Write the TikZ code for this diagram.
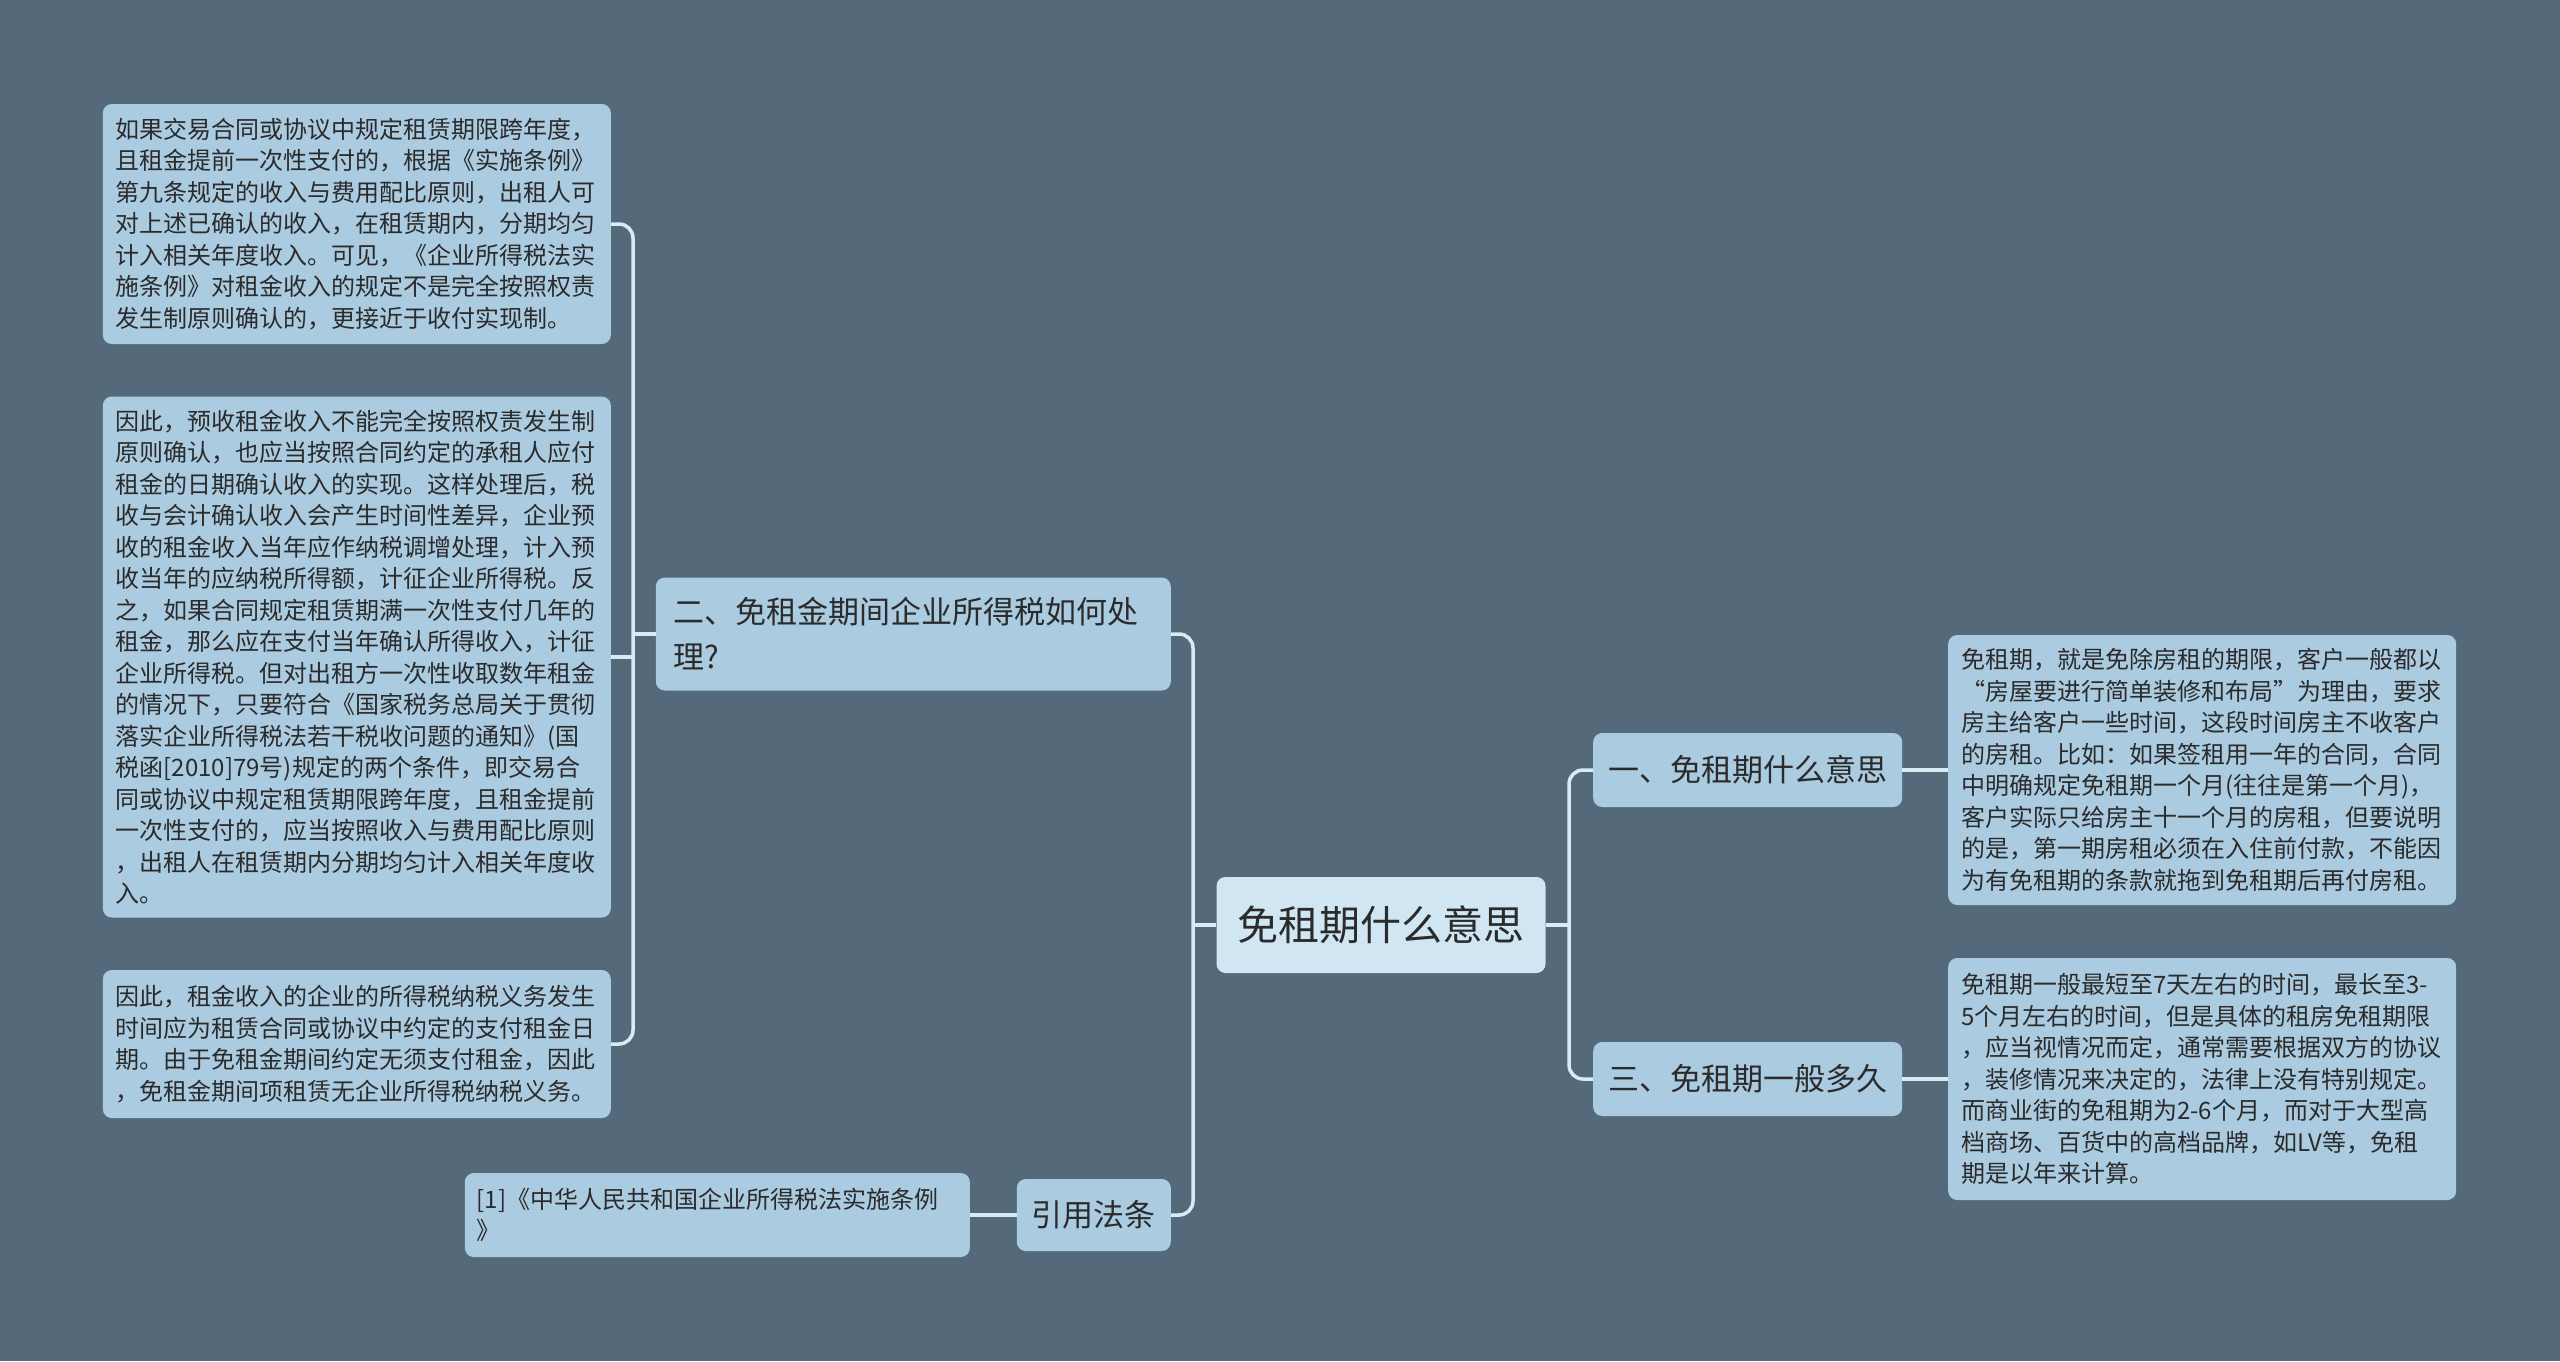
\documentclass[tikz,border=0pt]{standalone}
\usepackage{fontspec}
\setmainfont{Noto Sans CJK SC}

\definecolor{bgcol}{HTML}{546A7A}
\definecolor{leafcol}{HTML}{ABCBE1}
\definecolor{rootcol}{HTML}{D0E6F2}
\definecolor{linkcol}{HTML}{D6EDF5}
\definecolor{txtcol}{HTML}{2B2B2B}

\begin{document}
\begin{tikzpicture}[x=1pt, y=-1pt,
                    every node/.style = {shape=rectangle, rounded corners=9pt, text=txtcol, align=left},
                    root/.style = {fill=rootcol, font=\fontsize{41}{49}\selectfont, inner xsep=21pt, minimum height=96pt},
                    topic/.style = {fill=leafcol, font=\fontsize{31}{45}\selectfont, inner xsep=15pt, minimum height=74pt},
                    leaf/.style = {fill=leafcol, font=\fontsize{24}{31.5}\selectfont, text width=482pt, inner xsep=13pt, inner ysep=8pt},
                    link/.style = {draw=linkcol, line width=3.5pt, rounded corners=14pt}]

  \fill[bgcol] (0,0) rectangle (2560,1361);

  \node[root] (root) at (1381,925) {免租期什么意思};

  \node[topic, anchor=west] (b1) at (1593,770) {一、免租期什么意思};
  \node[topic, anchor=west] (b3) at (1593,1079) {三、免租期一般多久};
  \node[topic, anchor=east, text width=480pt, inner xsep=17.5pt, minimum height=113pt] (b2) at (1171,634)
    {二、免租金期间企业所得税如何处\\理?};
  \node[topic, anchor=east, minimum height=72pt] (b4) at (1171,1215) {引用法条};

  \node[leaf, anchor=west, minimum height=270pt] (r1) at (1948,770)
    {免租期，就是免除房租的期限，客户一般都以\\
     “房屋要进行简单装修和布局”为理由，要求\\
     房主给客户一些时间，这段时间房主不收客户\\
     的房租。比如：如果签租用一年的合同，合同\\
     中明确规定免租期一个月(往往是第一个月)，\\
     客户实际只给房主十一个月的房租，但要说明\\
     的是，第一期房租必须在入住前付款，不能因\\
     为有免租期的条款就拖到免租期后再付房租。};
  \node[leaf, anchor=west, minimum height=242pt] (r3) at (1948,1079)
    {免租期一般最短至7天左右的时间，最长至3-\\
     5个月左右的时间，但是具体的租房免租期限\\
     ，应当视情况而定，通常需要根据双方的协议\\
     ，装修情况来决定的，法律上没有特别规定。\\
     而商业街的免租期为2-6个月，而对于大型高\\
     档商场、百货中的高档品牌，如LV等，免租\\
     期是以年来计算。};

  \node[leaf, anchor=east, minimum height=240pt] (l1) at (611,224)
    {如果交易合同或协议中规定租赁期限跨年度，\\
     且租金提前一次性支付的，根据《实施条例》\\
     第九条规定的收入与费用配比原则，出租人可\\
     对上述已确认的收入，在租赁期内，分期均匀\\
     计入相关年度收入。可见，《企业所得税法实\\
     施条例》对租金收入的规定不是完全按照权责\\
     发生制原则确认的，更接近于收付实现制。};
  \node[leaf, anchor=east, minimum height=521pt] (l2) at (611,657)
    {因此，预收租金收入不能完全按照权责发生制\\
     原则确认，也应当按照合同约定的承租人应付\\
     租金的日期确认收入的实现。这样处理后，税\\
     收与会计确认收入会产生时间性差异，企业预\\
     收的租金收入当年应作纳税调增处理，计入预\\
     收当年的应纳税所得额，计征企业所得税。反\\
     之，如果合同规定租赁期满一次性支付几年的\\
     租金，那么应在支付当年确认所得收入，计征\\
     企业所得税。但对出租方一次性收取数年租金\\
     的情况下，只要符合《国家税务总局关于贯彻\\
     落实企业所得税法若干税收问题的通知》(国\\
     税函[2010]79号)规定的两个条件，即交易合\\
     同或协议中规定租赁期限跨年度，且租金提前\\
     一次性支付的，应当按照收入与费用配比原则\\
     ，出租人在租赁期内分期均匀计入相关年度收\\
     入。};
  \node[leaf, anchor=east, minimum height=148pt] (l3) at (611,1044)
    {因此，租金收入的企业的所得税纳税义务发生\\
     时间应为租赁合同或协议中约定的支付租金日\\
     期。由于免租金期间约定无须支付租金，因此\\
     ，免租金期间项租赁无企业所得税纳税义务。};
  \node[leaf, anchor=east, text width=481pt, inner xsep=12pt, minimum height=84pt] (ref) at (970,1215)
    {[1]《中华人民共和国企业所得税法实施条例\\》};

  \coordinate (jr) at (1569,925);
  \coordinate (jl) at (1193,925);
  \coordinate (jb) at (633,634);

  \draw[link] (b1.west) -| (jr) |- (b3.west);
  \draw[link] (root.east) -- (jr);
  \draw[link] (b2.east) -| (jl) |- (b4.east);
  \draw[link] (root.west) -- (jl);
  \draw[link] (l1.east) -| (jb) |- (l3.east);
  \draw[link] (l2.east) -- (l2.east -| jb);
  \draw[link] (b2.west) -- (jb);
  \draw[link] (b1.east) -- (r1.west);
  \draw[link] (b3.east) -- (r3.west);
  \draw[link] (b4.west) -- (ref.east);
\end{tikzpicture}
\end{document}
